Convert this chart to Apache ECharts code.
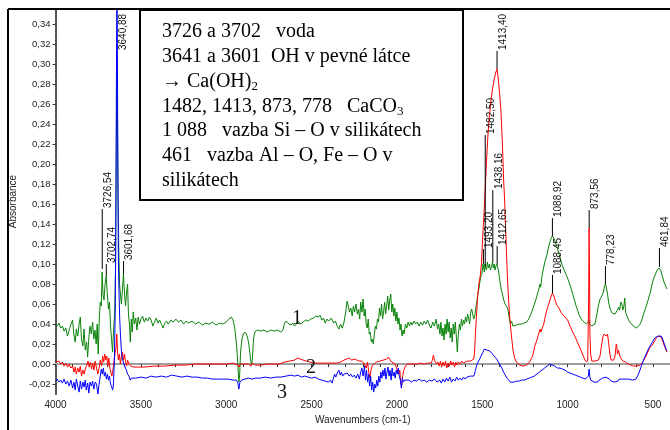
<!DOCTYPE html>
<html>
<head>
<meta charset="utf-8">
<script src="https://cdn.jsdelivr.net/npm/echarts@6/dist/echarts.min.js"></script>
<style>html,body{margin:0;padding:0;background:#fff}#c{width:670px;height:430px}</style>
</head>
<body>
<div id="c"></div>
<script>
// ---- DATA ----
const xTickLabels = [4000, 3500, 3000, 2500, 2000, 1500, 1000, 500];
const yTickLabels = [-0.02, 0.00, 0.02, 0.04, 0.06, 0.08, 0.10, 0.12, 0.14, 0.16, 0.18, 0.20, 0.22, 0.24, 0.26, 0.28, 0.30, 0.32, 0.34];

// spectrum 1 (green): [wavenumber, absorbance]
const spectrum1 = [
[4000,0.040],[3990,0.038],[3980,0.041],[3970,0.036],[3960,0.038],[3950,0.033],[3940,0.036],[3930,0.028],[3920,0.034],[3910,0.040],
[3900,0.044],[3893,0.030],[3885,0.022],[3878,0.035],[3870,0.028],[3862,0.040],[3855,0.047],[3848,0.025],[3840,0.018],[3833,0.035],
[3826,0.014],[3818,0.022],[3812,0.007],[3805,0.026],[3798,0.038],[3790,0.030],[3783,0.042],[3776,0.025],[3769,0.034],[3762,0.020],
[3756,0.040],[3750,0.010],[3744,0.045],[3738,0.062],[3732,0.058],[3727,0.092],[3722,0.070],[3716,0.064],[3710,0.080],[3703,0.088],
[3697,0.070],[3690,0.055],[3684,0.062],[3678,0.038],[3672,0.025],[3666,0.012],[3660,0.035],[3654,0.050],[3648,0.100],[3644,0.210],
[3641,0.295],[3638,0.260],[3634,0.170],[3630,0.120],[3625,0.080],[3620,0.070],[3614,0.060],[3608,0.075],[3602,0.090],[3596,0.070],
[3590,0.058],[3584,0.072],[3578,0.080],[3573,0.050],[3567,0.040],[3562,0.022],[3556,0.045],[3550,0.032],[3545,0.052],[3538,0.040],
[3530,0.046],[3523,0.034],[3516,0.047],[3508,0.040],[3500,0.045],[3490,0.048],[3480,0.042],[3470,0.046],[3460,0.043],[3450,0.047],
[3440,0.044],[3430,0.038],[3420,0.042],[3410,0.046],[3400,0.041],[3390,0.044],[3380,0.040],[3370,0.036],[3360,0.041],[3350,0.043],
[3340,0.040],[3325,0.044],[3310,0.042],[3295,0.045],[3280,0.042],[3265,0.044],[3250,0.040],[3235,0.043],[3220,0.041],[3200,0.043],
[3180,0.040],[3160,0.042],[3140,0.039],[3120,0.041],[3100,0.040],[3080,0.042],[3060,0.039],[3040,0.041],[3020,0.040],[3000,0.042],
[2985,0.045],[2970,0.047],[2960,0.044],[2950,0.036],[2940,0.020],[2932,0.000],[2926,-0.018],[2921,-0.010],[2916,0.012],[2908,0.025],
[2900,0.030],[2890,0.032],[2882,0.030],[2874,0.026],[2866,0.018],[2858,0.005],[2852,-0.001],[2847,0.005],[2842,0.020],[2836,0.030],
[2828,0.033],[2815,0.034],[2800,0.033],[2780,0.034],[2760,0.032],[2740,0.034],[2720,0.033],[2700,0.034],[2680,0.032],[2668,0.034],
[2660,0.040],[2650,0.043],[2640,0.041],[2630,0.042],[2620,0.039],[2610,0.041],[2600,0.038],[2590,0.040],[2580,0.043],[2565,0.040],
[2550,0.042],[2535,0.044],[2520,0.043],[2505,0.045],[2490,0.046],[2475,0.048],[2460,0.047],[2450,0.049],[2440,0.044],[2430,0.046],
[2420,0.041],[2410,0.045],[2400,0.043],[2385,0.046],[2370,0.041],[2360,0.043],[2350,0.038],[2340,0.035],[2330,0.040],[2320,0.036],
[2310,0.042],[2300,0.052],[2292,0.063],[2285,0.058],[2278,0.052],[2270,0.056],[2262,0.048],[2255,0.058],[2248,0.052],[2240,0.060],
[2232,0.050],[2225,0.055],[2218,0.045],[2212,0.062],[2205,0.052],[2198,0.065],[2192,0.048],[2186,0.055],[2180,0.040],[2174,0.036],
[2168,0.045],[2162,0.030],[2156,0.032],[2150,0.022],[2144,0.025],[2138,0.020],[2132,0.030],[2126,0.038],[2120,0.035],[2114,0.045],
[2108,0.042],[2102,0.056],[2096,0.048],[2090,0.060],[2084,0.045],[2078,0.052],[2072,0.062],[2066,0.050],[2060,0.058],[2054,0.068],
[2048,0.054],[2042,0.064],[2036,0.070],[2030,0.052],[2024,0.060],[2018,0.048],[2012,0.056],[2006,0.043],[2000,0.052],[1994,0.040],
[1988,0.046],[1982,0.034],[1976,0.040],[1970,0.028],[1964,0.034],[1958,0.030],[1950,0.040],[1942,0.036],[1934,0.042],[1926,0.038],
[1918,0.042],[1910,0.039],[1900,0.043],[1890,0.040],[1880,0.042],[1870,0.038],[1860,0.042],[1850,0.039],[1840,0.043],[1830,0.040],
[1820,0.044],[1810,0.039],[1800,0.036],[1790,0.042],[1780,0.038],[1770,0.045],[1762,0.035],[1755,0.040],[1748,0.030],[1742,0.042],
[1736,0.028],[1730,0.036],[1724,0.024],[1718,0.040],[1712,0.030],[1706,0.045],[1700,0.032],[1694,0.042],[1688,0.026],[1682,0.036],
[1676,0.022],[1670,0.040],[1664,0.030],[1658,0.042],[1652,0.028],[1646,0.012],[1640,0.030],[1634,0.040],[1628,0.034],[1622,0.045],
[1616,0.038],[1610,0.044],[1604,0.040],[1598,0.047],[1592,0.042],[1586,0.050],[1580,0.046],[1574,0.040],[1568,0.052],[1562,0.055],
[1556,0.050],[1550,0.045],[1544,0.048],[1538,0.056],[1532,0.062],[1526,0.070],[1520,0.075],[1514,0.082],[1508,0.088],[1502,0.090],
[1496,0.100],[1493,0.098],[1488,0.092],[1484,0.100],[1480,0.096],[1475,0.094],[1470,0.102],[1464,0.096],[1458,0.100],[1452,0.094],
[1446,0.098],[1440,0.102],[1435,0.096],[1430,0.100],[1425,0.094],[1420,0.098],[1414,0.100],[1408,0.096],[1402,0.090],[1396,0.082],
[1390,0.076],[1382,0.070],[1374,0.064],[1366,0.060],[1358,0.058],[1350,0.055],[1342,0.046],[1335,0.040],[1328,0.043],[1320,0.038],
[1310,0.038],[1300,0.039],[1285,0.040],[1270,0.040],[1255,0.041],[1240,0.042],[1228,0.045],[1215,0.050],[1200,0.057],[1185,0.065],
[1170,0.074],[1162,0.080],[1158,0.077],[1150,0.088],[1140,0.097],[1130,0.104],[1120,0.110],[1110,0.118],[1100,0.124],[1090,0.128],
[1080,0.126],[1070,0.121],[1060,0.116],[1050,0.110],[1040,0.104],[1030,0.098],[1020,0.094],[1010,0.090],[1000,0.086],[990,0.081],
[980,0.076],[970,0.070],[960,0.064],[950,0.058],[940,0.053],[930,0.048],[920,0.045],[910,0.043],[900,0.042],[890,0.040],
[880,0.042],[875,0.044],[870,0.040],[860,0.038],[850,0.038],[840,0.040],[830,0.048],[820,0.058],[810,0.065],[800,0.068],
[790,0.072],[784,0.078],[778,0.080],[772,0.076],[766,0.070],[760,0.062],[752,0.056],[745,0.053],[738,0.051],[730,0.050],
[722,0.050],[715,0.052],[708,0.054],[700,0.057],[695,0.054],[688,0.062],[682,0.060],[676,0.054],[670,0.058],[665,0.066],
[660,0.052],[652,0.048],[645,0.045],[635,0.042],[625,0.040],[615,0.038],[605,0.038],[595,0.036],[585,0.037],[575,0.040],
[565,0.044],[555,0.050],[545,0.055],[535,0.060],[525,0.066],[515,0.072],[505,0.080],[495,0.086],[485,0.090],[475,0.094],
[465,0.096],[462,0.097],[455,0.094],[445,0.088],[435,0.082],[425,0.078],[418,0.075]
];

// spectrum 2 (red)
const spectrum2 = [
[4000,0.002],[3990,0.001],[3980,0.003],[3970,0.000],[3960,0.002],[3950,-0.002],[3940,0.001],[3930,-0.003],[3920,0.000],[3910,-0.004],
[3900,-0.002],[3892,-0.008],[3885,-0.003],[3878,-0.010],[3870,-0.004],[3862,-0.008],[3855,-0.002],[3848,-0.012],[3840,-0.006],[3832,-0.010],
[3825,-0.004],[3818,-0.002],[3810,0.003],[3803,-0.003],[3796,0.002],[3789,-0.005],[3782,0.001],[3775,-0.006],[3768,0.003],[3760,-0.004],
[3752,-0.010],[3745,-0.004],[3738,0.004],[3730,-0.002],[3724,0.008],[3718,0.002],[3712,0.010],[3706,0.004],[3700,0.008],[3694,-0.002],
[3688,0.006],[3682,-0.004],[3676,-0.008],[3670,-0.012],[3664,-0.006],[3658,0.002],[3652,0.010],[3646,0.016],[3641,0.030],[3637,0.012],
[3632,0.004],[3626,0.010],[3620,0.000],[3614,0.008],[3608,0.012],[3602,0.004],[3596,0.010],[3590,0.002],[3584,-0.002],[3578,0.004],
[3570,0.000],[3560,-0.002],[3540,-0.003],[3480,-0.003],[3420,-0.002],[3360,-0.002],[3300,-0.001],[3240,-0.001],[3180,0.000],[3120,0.000],
[3060,0.000],[3000,0.000],[2960,0.001],[2930,-0.001],[2925,-0.003],[2918,0.000],[2900,0.000],[2870,0.000],[2855,-0.002],[2848,0.001],
[2830,-0.001],[2800,-0.001],[2760,0.000],[2720,0.000],[2690,0.000],[2660,0.002],[2630,0.003],[2600,0.004],[2580,0.006],[2570,0.005],
[2550,0.004],[2530,0.003],[2510,0.002],[2480,0.001],[2450,0.001],[2420,0.001],[2380,0.001],[2350,0.001],[2330,0.002],[2310,0.004],
[2295,0.005],[2280,0.006],[2265,0.004],[2250,0.005],[2235,0.004],[2220,0.003],[2205,0.003],[2190,0.000],[2180,-0.004],[2172,0.002],
[2165,-0.008],[2158,-0.014],[2152,-0.006],[2145,-0.002],[2135,0.000],[2120,0.002],[2100,0.003],[2080,0.004],[2060,0.005],[2050,0.007],
[2040,0.004],[2030,0.002],[2020,0.003],[2010,0.000],[2000,-0.005],[1990,-0.010],[1983,-0.006],[1978,-0.018],[1972,-0.022],[1966,-0.012],
[1960,-0.006],[1950,-0.002],[1940,0.000],[1920,0.000],[1900,0.000],[1880,0.000],[1860,0.001],[1840,0.000],[1820,0.001],[1800,0.001],
[1792,0.004],[1786,0.009],[1780,0.004],[1774,0.003],[1768,0.000],[1760,0.002],[1752,-0.002],[1745,0.003],[1738,-0.003],[1730,0.002],
[1722,-0.002],[1715,0.003],[1708,-0.004],[1700,0.001],[1692,-0.002],[1685,0.003],[1678,-0.001],[1670,0.002],[1662,-0.003],[1655,0.002],
[1648,-0.001],[1640,0.002],[1630,0.000],[1620,0.003],[1610,0.001],[1600,0.002],[1590,0.003],[1580,0.002],[1570,0.003],[1560,0.004],
[1550,0.005],[1545,0.012],[1540,0.030],[1535,0.045],[1528,0.065],[1520,0.080],[1512,0.088],[1505,0.100],[1498,0.125],[1490,0.150],
[1484,0.170],[1476,0.200],[1468,0.225],[1460,0.245],[1450,0.262],[1440,0.275],[1430,0.285],[1420,0.292],[1413,0.295],[1406,0.285],
[1398,0.270],[1390,0.252],[1382,0.220],[1375,0.185],[1368,0.160],[1360,0.120],[1352,0.085],[1345,0.062],[1338,0.045],[1330,0.030],
[1320,0.014],[1310,0.006],[1300,0.002],[1280,-0.001],[1260,-0.002],[1240,-0.001],[1220,0.003],[1205,0.008],[1192,0.018],[1180,0.024],
[1170,0.030],[1162,0.035],[1156,0.032],[1148,0.031],[1140,0.040],[1130,0.048],[1120,0.055],[1110,0.060],[1100,0.066],[1089,0.071],
[1080,0.068],[1070,0.062],[1060,0.058],[1050,0.056],[1040,0.052],[1025,0.049],[1010,0.046],[1000,0.044],[985,0.038],[970,0.032],
[955,0.027],[940,0.021],[925,0.015],[910,0.009],[898,0.004],[888,0.002],[882,0.004],[877,0.060],[874,0.136],[872,0.100],
[869,0.030],[865,0.010],[858,0.003],[850,0.002],[840,0.003],[830,0.002],[820,0.004],[810,0.008],[800,0.020],[792,0.028],
[786,0.030],[780,0.031],[774,0.028],[766,0.030],[760,0.022],[752,0.010],[745,0.004],[738,0.003],[730,0.004],[722,0.008],
[715,0.020],[712,0.018],[708,0.010],[702,0.014],[697,0.013],[692,0.007],[685,0.005],[675,0.003],[660,0.002],[645,0.000],
[630,-0.001],[615,-0.002],[600,-0.002],[590,-0.002],[575,-0.001],[560,0.002],[550,0.005],[540,0.008],[530,0.012],[520,0.016],
[510,0.018],[500,0.020],[490,0.023],[480,0.026],[470,0.028],[460,0.028],[452,0.027],[445,0.024],[435,0.019],[425,0.015],[418,0.012]
];

// spectrum 3 (blue)
const spectrum3 = [
[4000,-0.017],[3990,-0.015],[3980,-0.018],[3970,-0.016],[3960,-0.019],[3950,-0.015],[3940,-0.020],[3930,-0.017],[3920,-0.022],[3910,-0.016],
[3900,-0.024],[3892,-0.018],[3885,-0.026],[3878,-0.015],[3870,-0.022],[3862,-0.028],[3855,-0.017],[3848,-0.025],[3840,-0.018],[3833,-0.023],
[3826,-0.016],[3820,-0.026],[3812,-0.019],[3805,-0.029],[3798,-0.018],[3790,-0.022],[3783,-0.017],[3776,-0.025],[3768,-0.018],[3760,-0.020],
[3752,-0.030],[3745,-0.020],[3738,-0.012],[3732,-0.005],[3726,-0.010],[3720,-0.004],[3714,-0.012],[3708,-0.008],[3702,-0.015],[3696,-0.010],
[3690,-0.016],[3684,-0.012],[3678,-0.020],[3672,-0.022],[3666,-0.026],[3662,-0.023],[3656,0.000],[3650,0.056],[3646,0.180],[3642,0.340],
[3640,0.380],[3638,0.330],[3635,0.200],[3632,0.105],[3628,0.070],[3624,0.045],[3620,0.030],[3615,0.015],[3610,0.007],[3605,0.003],
[3600,0.000],[3595,-0.002],[3590,-0.004],[3585,-0.006],[3578,-0.010],[3570,-0.012],[3562,-0.016],[3555,-0.014],[3545,-0.015],[3530,-0.014],
[3500,-0.013],[3470,-0.014],[3440,-0.012],[3410,-0.013],[3380,-0.012],[3350,-0.013],[3320,-0.011],[3290,-0.012],[3260,-0.013],[3230,-0.012],
[3200,-0.013],[3170,-0.013],[3140,-0.014],[3110,-0.014],[3080,-0.015],[3050,-0.015],[3020,-0.015],[2990,-0.015],[2960,-0.016],[2940,-0.016],
[2932,-0.019],[2926,-0.025],[2920,-0.018],[2910,-0.016],[2890,-0.015],[2870,-0.014],[2850,-0.015],[2830,-0.014],[2800,-0.014],[2770,-0.013],
[2740,-0.014],[2710,-0.013],[2680,-0.013],[2650,-0.012],[2620,-0.011],[2600,-0.012],[2580,-0.011],[2560,-0.013],[2540,-0.012],[2520,-0.013],
[2500,-0.014],[2480,-0.013],[2460,-0.015],[2440,-0.016],[2420,-0.017],[2400,-0.018],[2390,-0.016],[2380,-0.019],[2372,-0.014],[2365,-0.010],
[2358,-0.013],[2350,-0.009],[2340,-0.006],[2332,-0.011],[2325,-0.008],[2318,-0.012],[2310,-0.010],[2300,-0.011],[2290,-0.009],[2280,-0.012],
[2270,-0.010],[2260,-0.013],[2250,-0.011],[2240,-0.014],[2230,-0.010],[2220,-0.015],[2212,-0.008],[2205,-0.004],[2198,-0.012],[2190,-0.002],
[2184,-0.016],[2178,-0.006],[2172,-0.018],[2166,-0.010],[2160,-0.022],[2154,-0.012],[2148,-0.026],[2142,-0.018],[2136,-0.028],[2130,-0.020],
[2124,-0.024],[2118,-0.016],[2112,-0.022],[2106,-0.012],[2100,-0.018],[2094,-0.008],[2088,-0.014],[2082,-0.006],[2076,-0.012],[2070,-0.004],
[2064,-0.015],[2058,-0.008],[2052,-0.003],[2046,-0.012],[2040,-0.006],[2034,-0.016],[2028,-0.004],[2022,-0.012],[2016,-0.008],[2010,-0.014],
[2004,-0.006],[1998,-0.010],[1992,-0.004],[1986,-0.012],[1980,-0.016],[1974,-0.024],[1968,-0.014],[1962,-0.018],[1955,-0.016],[1945,-0.017],
[1930,-0.016],[1915,-0.018],[1900,-0.016],[1885,-0.017],[1870,-0.015],[1855,-0.017],[1840,-0.016],[1825,-0.018],[1810,-0.016],[1795,-0.017],
[1780,-0.015],[1765,-0.018],[1750,-0.016],[1740,-0.019],[1730,-0.015],[1720,-0.018],[1710,-0.014],[1700,-0.017],[1690,-0.013],[1680,-0.018],
[1670,-0.015],[1660,-0.017],[1650,-0.013],[1640,-0.016],[1630,-0.014],[1620,-0.016],[1610,-0.013],[1600,-0.015],[1590,-0.013],[1580,-0.014],
[1570,-0.012],[1560,-0.013],[1550,-0.012],[1545,-0.010],[1540,-0.006],[1532,-0.001],[1525,0.002],[1515,0.005],[1505,0.009],[1495,0.012],
[1488,0.015],[1480,0.016],[1472,0.014],[1465,0.015],[1455,0.013],[1445,0.011],[1435,0.009],[1425,0.007],[1415,0.005],[1405,0.002],
[1395,-0.001],[1385,-0.004],[1375,-0.008],[1365,-0.011],[1355,-0.014],[1345,-0.016],[1335,-0.018],[1325,-0.017],[1315,-0.018],[1300,-0.017],
[1285,-0.017],[1270,-0.016],[1255,-0.016],[1240,-0.015],[1225,-0.014],[1210,-0.013],[1195,-0.012],[1180,-0.010],[1165,-0.008],[1150,-0.006],
[1135,-0.004],[1120,-0.002],[1105,0.000],[1090,-0.001],[1075,-0.002],[1060,-0.004],[1045,-0.004],[1030,-0.005],[1015,-0.006],[1000,-0.008],
[985,-0.009],[970,-0.010],[955,-0.011],[940,-0.012],[925,-0.013],[910,-0.014],[895,-0.015],[885,-0.016],[878,-0.012],[874,-0.005],
[870,-0.012],[865,-0.016],[855,-0.017],[845,-0.018],[835,-0.019],[825,-0.018],[815,-0.016],[805,-0.015],[795,-0.014],[785,-0.013],
[775,-0.013],[765,-0.014],[755,-0.015],[745,-0.017],[735,-0.018],[725,-0.018],[715,-0.017],[705,-0.017],[698,-0.015],[690,-0.016],
[680,-0.015],[670,-0.016],[660,-0.015],[650,-0.014],[640,-0.015],[630,-0.016],[620,-0.016],[610,-0.016],[600,-0.015],[590,-0.012],
[580,-0.008],[570,-0.003],[560,0.002],[550,0.006],[540,0.010],[530,0.014],[520,0.017],[510,0.020],[500,0.023],[490,0.026],
[480,0.027],[470,0.028],[460,0.029],[452,0.028],[445,0.026],[435,0.021],[425,0.016],[418,0.013]
];

// peak annotations
const peakWn    = [3640.88, 3726.54, 3702.74, 3601.68, 1493.20, 1482.50, 1438.16, 1413.40, 1412.65, 1088.92, 1088.45, 873.56, 778.23, 461.84];
const peakBase  = [0.313,   0.095,   0.088,   0.090,   0.100,   0.098,   0.102,   0.295,   0.100,   0.128,   0.071,   0.136,  0.080,  0.097];
const peakTop   = [0.313,   0.155,   0.100,   0.103,   0.115,   0.229,   0.174,   0.313,   0.118,   0.146,   0.089,   0.154,  0.098,  0.116];
const peakText  = ['3640,88','3726,54','3702,74','3601,68','1493,20','1482,50','1438,16','1413,40','1412,65','1088,92','1088,45','873,56','778,23','461,84'];

const legendLines = [
  '3726 a 3702   voda',
  '3641 a 3601  OH v pevné látce',
  '→ Ca(OH){s|2}',
  '1482, 1413, 873, 778   CaCO{s|3}',
  '1 088   vazba Si – O v silikátech',
  '461   vazba Al – O, Fe – O v',
  'silikátech'
];

// ---- CHART ----
const chart = echarts.init(document.getElementById('c'), null, {renderer: 'canvas'});
const fmt = v => (Math.abs(v) < 1e-9 ? 0 : v).toFixed(2).replace('.', ',');
const xTicks = [];
for (let v = 500; v <= 4000; v += 100) xTicks.push(v);

const peakData = peakWn.map((w, i) => [w, peakBase[i], peakTop[i], peakText[i]]);

const legendGraphics = legendLines.map((t, i) => ({
  type: 'text', left: 162, top: 22 + i * 24.8, z: 20,
  style: {
    text: t, fill: '#000', font: '20px "Liberation Serif", "Times New Roman", serif',
    rich: { s: { fontSize: 13, fontFamily: '"Liberation Serif", serif', padding: [10, 0, 0, 0] } }
  }
}));

const option = {
  backgroundColor: '#fff',
  animation: false,
  grid: { left: 55, right: -3, top: 9, bottom: 30, containLabel: false },
  xAxis: {
    type: 'value', inverse: true, min: 400, max: 4000,
    name: 'Wavenumbers (cm-1)', nameLocation: 'middle', nameGap: 17,
    nameTextStyle: { fontFamily: 'Liberation Sans, Arial', fontSize: 10, color: '#222' },
    axisLine: { show: true, lineStyle: { color: '#a0a0a0', width: 2 } },
    axisTick: { show: true, length: 3, customValues: xTicks, lineStyle: { color: '#333', width: 1 } },
    axisLabel: { customValues: xTickLabels, formatter: v => String(v), fontFamily: 'Liberation Sans, Arial', fontSize: 10, color: '#222', margin: 6 },
    splitLine: { show: false }
  },
  yAxis: {
    type: 'value', min: -0.03, max: 0.355,
    name: 'Absorbance', nameLocation: 'middle', nameGap: 36,
    nameTextStyle: { fontFamily: 'Liberation Sans, Arial', fontSize: 10, color: '#222' },
    axisLine: { show: true, lineStyle: { color: '#444', width: 2, type: [1, 1.5] } },
    axisTick: { show: true, length: 3, customValues: yTickLabels, lineStyle: { color: '#333' } },
    axisLabel: { customValues: yTickLabels, formatter: fmt, fontFamily: 'Liberation Sans, Arial', fontSize: 9.5, color: '#222', margin: 5 },
    splitLine: { show: false }
  },
  series: [
    { type: 'line', data: spectrum1, showSymbol: false, symbol: 'none', lineStyle: { color: '#0a820a', width: 1 }, z: 2 },
    { type: 'line', data: spectrum2, showSymbol: false, symbol: 'none', lineStyle: { color: '#ff0000', width: 1 }, z: 3 },
    { type: 'line', data: spectrum3, showSymbol: false, symbol: 'none', lineStyle: { color: '#0000ff', width: 1 }, z: 4 },
    {
      type: 'custom', data: peakData, z: 6, clip: false,
      renderItem: function (params, api) {
        const p0 = api.coord([api.value(0), api.value(1)]);
        const p1 = api.coord([api.value(0), api.value(2)]);
        const children = [];
        if (Math.abs(p0[1] - p1[1]) > 0.5) {
          children.push({ type: 'line', shape: { x1: p0[0], y1: p0[1], x2: p1[0], y2: p1[1] }, style: { stroke: '#000', lineWidth: 1 } });
        }
        children.push({
          type: 'text', x: p1[0] + 6, y: p1[1] - 1, rotation: Math.PI / 2,
          style: { text: api.value(3), fill: '#111', font: '10px "Liberation Sans", Arial', align: 'left', verticalAlign: 'middle' }
        });
        return { type: 'group', children: children };
      }
    }
  ],
  graphic: [
    { type: 'line', shape: { x1: 8, y1: 9, x2: 670, y2: 9 }, style: { stroke: '#000', lineWidth: 2 }, z: 30 },
    { type: 'line', shape: { x1: 8, y1: 9, x2: 8, y2: 430 }, style: { stroke: '#000', lineWidth: 2 }, z: 30 },
    { type: 'rect', shape: { x: 140, y: 10, width: 323, height: 190 }, style: { fill: '#fff', stroke: '#000', lineWidth: 2 }, z: 19 },
    ...legendGraphics,
    { type: 'text', x: 297, y: 319, z: 20, style: { text: '1', font: '20px "Liberation Serif", serif', fill: '#111', align: 'center', verticalAlign: 'middle' } },
    { type: 'text', x: 311, y: 368, z: 20, style: { text: '2', font: '20px "Liberation Serif", serif', fill: '#111', align: 'center', verticalAlign: 'middle' } },
    { type: 'text', x: 282, y: 393, z: 20, style: { text: '3', font: '20px "Liberation Serif", serif', fill: '#111', align: 'center', verticalAlign: 'middle' } }
  ]
};
chart.setOption(option);
</script>
</body>
</html>
